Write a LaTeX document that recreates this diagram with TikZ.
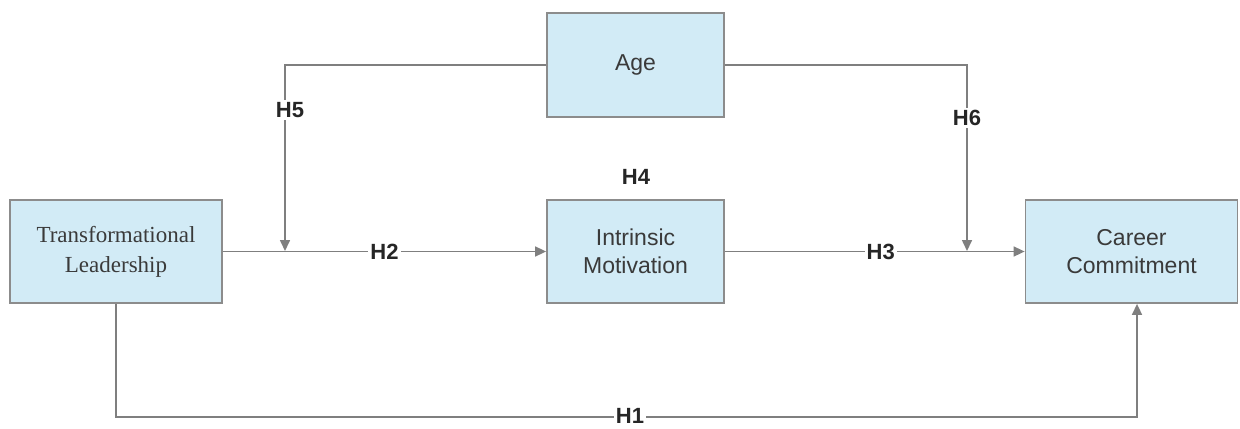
\documentclass[tikz,border=0pt]{standalone}
\usepackage{fontspec}
\setmainfont{Liberation Serif}
\setsansfont{Liberation Sans}
\usepackage{xcolor}
\usetikzlibrary{arrows.meta}

\definecolor{boxfill}{HTML}{D2EBF6}
\definecolor{boxline}{HTML}{8C8C8C}
\definecolor{linkgray}{HTML}{7F7F7F}
\definecolor{textgray}{HTML}{3A3A3A}

\tikzset{
  varbox/.style={rectangle,draw=boxline,fill=boxfill,line width=0.9pt,
    minimum width=106pt,minimum height=51.5pt,align=center,text=textgray,
    font=\sffamily\fontsize{11.5}{14}\selectfont},
  link/.style={draw=linkgray,line width=0.8pt,-{Triangle[length=5.5pt,width=5pt]}},
  hyp/.style={fill=white,inner sep=1pt,text=black!85,
    font=\sffamily\bfseries\fontsize{11}{13}\selectfont}
}

\begin{document}
\begin{tikzpicture}[x=0.5pt,y=-0.5pt]
\useasboundingbox (0,0) rectangle (1240,428);

\node at (116,251.5) [varbox,font=\rmfamily\fontsize{11.5}{15}\selectfont] (tl) {Transformational\\Leadership};
\node at (635.5,65) [varbox,minimum width=88.5pt,minimum height=52pt] (age) {Age};
\node at (635.5,251.5) [varbox,minimum width=88.5pt] (im) {Intrinsic\\Motivation};
\node at (1131.5,251.5) [varbox] (cc) {Career\\Commitment};

\coordinate (m5) at (285,251);
\coordinate (m6) at (967,251);
\coordinate (h1a) at (116,417);
\coordinate (h1b) at (1137,417);

\draw [link] (tl) -- node[hyp] (h2) {H2} (im);
\draw [link] (im) -- node[hyp,pos=0.52] (h3) {H3} (cc);
\draw [link] (age.west) -| (m5);
\draw [link] (age.east) -| (m6);
\draw [link] (tl.south -| h1a) -- (h1a) -- (h1b) -- (h1b |- cc.south);

\node at (290,110) [hyp] (h5) {H5};
\node at (967,118) [hyp] (h6) {H6};
\node at (636,177) [hyp] (h4) {H4};
\node at (630,416) [hyp] (h1) {H1};
\end{tikzpicture}
\end{document}
